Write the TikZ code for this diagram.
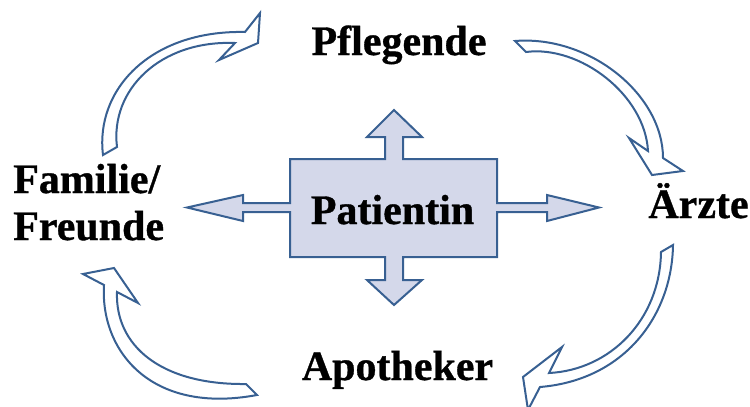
\documentclass[tikz,border=0pt]{standalone}
\usepackage{fontspec}
\setmainfont{Liberation Serif}[BoldFeatures={FakeBold=0.8}]
\begin{document}
\begin{tikzpicture}[x=1pt,y=-1pt,
  lbl/.style={font=\fontsize{42}{47}\selectfont\bfseries, inner sep=0pt},
  cyclearrow/.style={draw=arrowblue, line width=2pt, fill=white, line join=miter},
  hub/.style={draw=arrowblue, line width=2pt, fill=hubfill, line join=miter}]
\definecolor{arrowblue}{RGB}{56,96,146}
\definecolor{hubfill}{RGB}{212,216,234}
\useasboundingbox (0,0) rectangle (750,407);
\clip (0,0) rectangle (750,407);

% central four-way arrow
\draw[hub] (290,159) -- (385,159) -- (385,137) -- (367,137) -- (394,110) -- (422,137)
  -- (403,137) -- (403,159) -- (497,159) -- (497,203) -- (547,203) -- (547,195)
  -- (599,207.5) -- (547,221) -- (547,212) -- (497,212) -- (497,257) -- (403,257)
  -- (403,280) -- (422,280) -- (394,305) -- (367,280) -- (385,280) -- (385,257)
  -- (290,257) -- (290,212) -- (243,212) -- (243,221) -- (187,207.5) -- (243,195)
  -- (243,203) -- (290,203) -- cycle;
\node[lbl, anchor=base] (pat) at (392.5,224) {Patientin};

% surrounding labels
\node[lbl, anchor=base] (pfl) at (399,55) {Pflegende};
\node[lbl, anchor=base] (arz) at (698.5,218) {Ärzte};
\node[lbl, anchor=base] (apo) at (397.5,380) {Apotheker};
\node[lbl, anchor=base west] (fam) at (13,193) {Familie/};
\node[lbl, anchor=base west] (fre) at (13,240) {Freunde};

% curved arrows of the cycle
\draw[cyclearrow] (103,155) .. controls (95,90) and (150,30) .. (245,32)
  -- (260,13) -- (258,43) -- (219,60) -- (235,43)
  .. controls (160,40) and (110,90) .. (117,147) -- cycle;
\draw[cyclearrow] (515,41) .. controls (590,35) and (663,95) .. (663,158)
  -- (683,171) -- (652,175) -- (629,138) -- (648,151)
  .. controls (645,95) and (580,45) .. (526,52) -- cycle;
\draw[cyclearrow] (673,245) .. controls (672,315) and (625,380) .. (540,387)
  -- (528,410) -- (523,377) -- (562,347) -- (549,373)
  .. controls (610,370) and (660,320) .. (661,252) -- cycle;
\draw[cyclearrow] (257,395) .. controls (150,415) and (100,350) .. (104,285)
  -- (83,274) -- (114,268) -- (138,303) -- (117,292)
  .. controls (115,345) and (160,385) .. (246,384) -- cycle;
\end{tikzpicture}
\end{document}
